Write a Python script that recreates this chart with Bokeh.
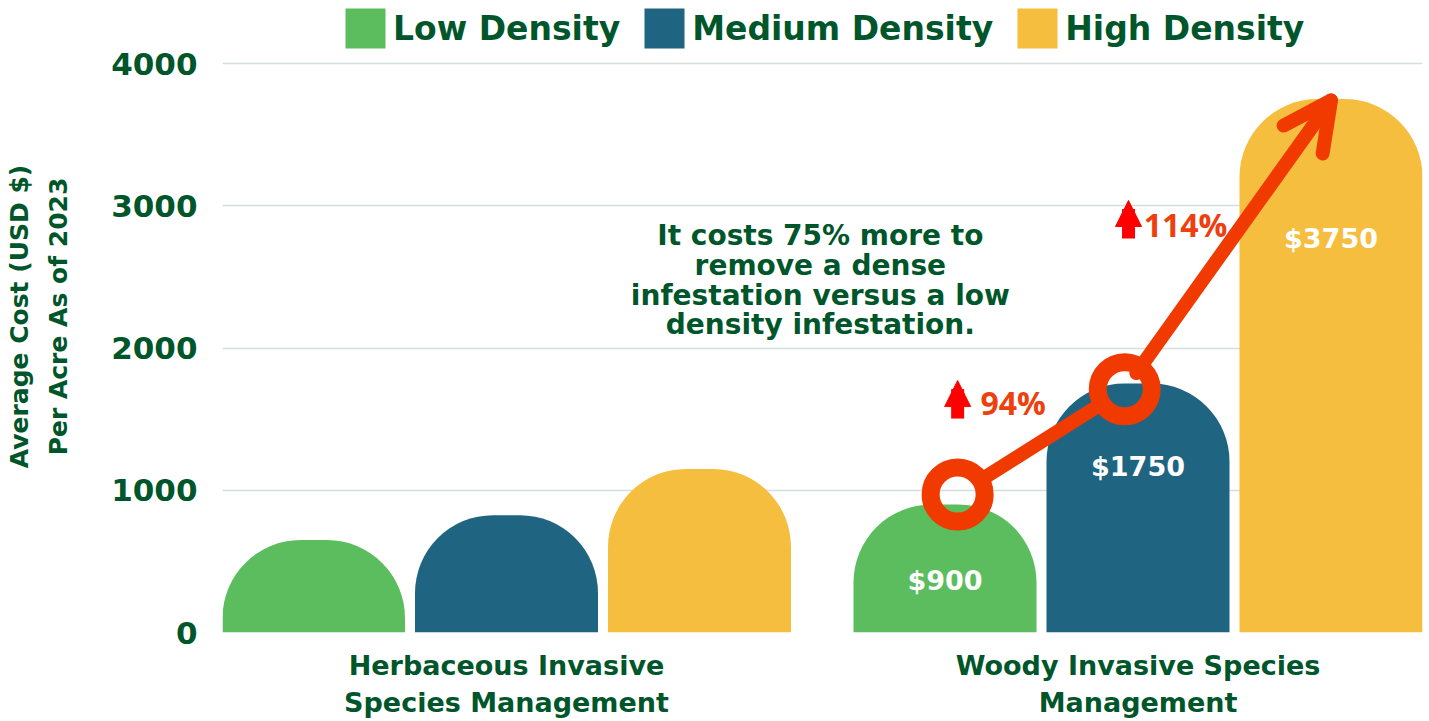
from bokeh.plotting import figure
from bokeh.models import (ColumnDataSource, Range1d, FixedTicker, Legend, LegendItem,
                          Arrow, OpenHead, NormalHead)
from bokeh.transform import dodge
from bokeh.core.properties import value
from bokeh.embed import file_html
from bokeh.resources import INLINE

# ---------------- data ----------------
categories = ["Herbaceous Invasive\nSpecies Management", "Woody Invasive Species\nManagement"]
densities = ["Low Density", "Medium Density", "High Density"]
low = [650, 900]
medium = [825, 1750]
high = [1150, 3750]
woody_labels = ["$900", "$1750", "$3750"]
pct_labels = ["94%", "114%"]
y_ticks = [0, 1000, 2000, 3000, 4000]
note = "It costs 75% more to\nremove a dense\ninfestation versus a low\ndensity infestation."
trend_y = [970, 1710, 3740]          # trend-marker values

# ---------------- style / layout ----------------
GREEN, BLUE, YELLOW = "#5BBD5E", "#1F6481", "#F5BE3F"
DARK = "#00562B"
RED_LINE = "#F03A00"
RED_ARROW = "#FF0000"
PCT = "#EE3F0E"
HEAVY = "DejaVu Sans"

cat_x = [1, 2]
offsets = [-0.3056, 0.0, 0.3056]
bar_w = 0.2898
XMIN, XMAX = 0.5503, 2.4505
FRAME_W = 1200
SY = 569 / 4000.0                    # px per value unit
YMAX = 4000 + 63 / SY                # head-room above the 4000 line for the legend
SX = FRAME_W / (XMAX - XMIN)

p = figure(width=1425, height=721, output_backend="svg", toolbar_location=None,
           x_range=Range1d(XMIN, XMAX), y_range=Range1d(0, YMAX),
           min_border_left=222, min_border_right=3, min_border_top=0, min_border_bottom=89)
p.outline_line_color = None
p.background_fill_color = "white"

src = ColumnDataSource(dict(x=cat_x, low=low, medium=medium, high=high))
colors = [GREEN, BLUE, YELLOW]
keys = ["low", "medium", "high"]
renderers = []
for k, off, c in zip(keys, offsets, colors):
    r = p.vbar(x=dodge("x", off, range=p.x_range), top=k, width=bar_w, source=src,
               fill_color=c, line_color=None, border_radius=(78, 78, 0, 0))
    renderers.append(r)

# grid / axes
p.xgrid.grid_line_color = None
p.ygrid.grid_line_color = "#D3DFDB"
p.ygrid.grid_line_width = 1.5
p.yaxis.ticker = FixedTicker(ticks=y_ticks)
p.xaxis.ticker = FixedTicker(ticks=cat_x)
p.xaxis.major_label_overrides = {cx: lab for cx, lab in zip(cat_x, categories)}

for ax in (p.xaxis[0], p.yaxis[0]):
    ax.axis_line_color = None
    ax.major_tick_line_color = None
    ax.minor_tick_line_color = None
    ax.major_tick_out = 0
    ax.major_tick_in = 0

p.yaxis.major_label_text_font = HEAVY
p.yaxis.major_label_text_font_style = "bold"
p.yaxis.major_label_text_font_size = "31px"
p.yaxis.major_label_text_color = DARK
p.yaxis.major_label_standoff = 25
p.yaxis.axis_label = "Average Cost (USD $)\nPer Acre As of 2023"
p.yaxis.axis_label_text_font = HEAVY
p.yaxis.axis_label_text_font_style = "bold"
p.yaxis.axis_label_text_font_size = "25px"
p.yaxis.axis_label_text_color = DARK
p.yaxis.axis_label_text_line_height = 1.35
p.yaxis.axis_label_standoff = 35

p.xaxis.major_label_text_font = HEAVY
p.xaxis.major_label_text_font_style = "bold"
p.xaxis.major_label_text_font_size = "27px"
p.xaxis.major_label_text_color = DARK
p.xaxis.major_label_text_line_height = 1.2
p.xaxis.major_label_standoff = 17

# value labels on woody bars
lab_src = ColumnDataSource(dict(x=[cat_x[1] + o for o in offsets], y=[365, 1165, 2770],
                                t=woody_labels))
p.text(x="x", y="y", text="t", source=lab_src, text_align="center", text_baseline="middle",
       text_color="white", text_font=value(HEAVY), text_font_style="bold",
       text_font_size="27px")

# note
p.text(x=[1.497], y=[2475], text=[note], text_align="center", text_baseline="middle",
       text_color=DARK, text_font=value(HEAVY), text_font_style="bold",
       text_font_size="28px", text_line_height=0.9)

# trend line with rings and arrow
trend_dx = [0.020, -0.021, 0.0]
tx = [cat_x[1] + o + d for o, d in zip(offsets, trend_dx)]
ty = trend_y


def trim(x0, y0, x1, y1, r0, r1):
    dxp = (x1 - x0) * SX
    dyp = (y1 - y0) * SY
    L = (dxp ** 2 + dyp ** 2) ** 0.5
    f0, f1 = r0 / L, 1 - r1 / L
    return (x0 + (x1 - x0) * f0, y0 + (y1 - y0) * f0,
            x0 + (x1 - x0) * f1, y0 + (y1 - y0) * f1)


a = trim(tx[0], ty[0], tx[1], ty[1], 20, 20)
p.segment(x0=[a[0]], y0=[a[1]], x1=[a[2]], y1=[a[3]], line_color=RED_LINE, line_width=14)
b = trim(tx[1], ty[1], tx[2], ty[2], 20, 0)
p.add_layout(Arrow(x_start=b[0], y_start=b[1], x_end=b[2], y_end=b[3],
                   line_color=RED_LINE, line_width=14, line_cap="round",
                   end=OpenHead(size=48, line_color=RED_LINE, line_width=14,
                                line_cap="round", line_join="round")))
p.scatter(x=tx[:2], y=ty[:2], size=54, marker="circle", fill_color=None,
          line_color=RED_LINE, line_width=18)

# percent arrows
for xa, y0, y1 in [(tx[0], 1504, 1771), (tx[1] + 0.006, 2770, 3037)]:
    p.add_layout(Arrow(x_start=xa, y_start=y0, x_end=xa, y_end=y1 - 60,
                       line_color=RED_ARROW, line_width=13, end=None))
    p.add_layout(Arrow(x_start=xa, y_start=y1 - 140, x_end=xa, y_end=y1,
                       line_color=None, line_width=0,
                       end=NormalHead(size=26, fill_color=RED_ARROW, line_color=RED_ARROW,
                                      line_width=1)))

p.text(x=[1.7506, 2.0090], y=[1617, 2868], text=pct_labels, text_align="left",
       text_baseline="middle", text_color=PCT, text_font=value("Open Sans"),
       text_font_style="bold", text_font_size="32px")

# legend (area-legend swatches are inset by 10 % each side, so 50 px -> 40 px squares)
legend = Legend(items=[LegendItem(label=d, renderers=[r]) for d, r in zip(densities, renderers)],
                orientation="horizontal", location=(118, 579))
legend.glyph_width = 50
legend.glyph_height = 50
legend.label_text_font = HEAVY
legend.label_text_font_style = "bold"
legend.label_text_font_size = "33px"
legend.label_text_color = DARK
legend.label_standoff = 3
legend.spacing = 19
legend.padding = 0
legend.margin = 0
legend.border_line_color = None
legend.background_fill_alpha = 0
p.add_layout(legend, "center")

open("out.html", "w").write(file_html(p, INLINE))
